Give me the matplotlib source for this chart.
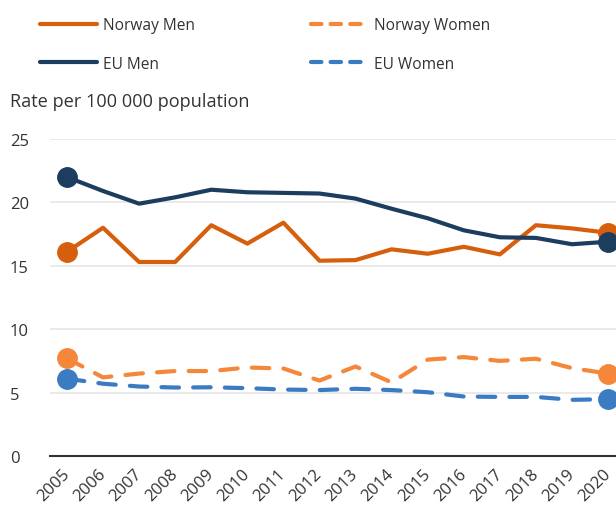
import matplotlib.pyplot as plt
from matplotlib.lines import Line2D

plt.rcParams["font.family"] = ["Open Sans", "DejaVu Sans"]

# ── DATA ──────────────────────────────────────────────────────────────────────
years = [str(y) for y in range(2005, 2021)]
norway_men = [16.1, 18.0, 15.3, 15.3, 18.2, 16.75, 18.4, 15.4, 15.45, 16.3,
              15.95, 16.5, 15.9, 18.2, 17.95, 17.6]
eu_men = [22.0, 20.9, 19.9, 20.4, 21.0, 20.8, 20.75, 20.7, 20.3, 19.5,
          18.75, 17.8, 17.25, 17.2, 16.7, 16.9]
norway_women = [7.7, 6.2, 6.5, 6.7, 6.7, 6.98, 6.9, 5.95, 7.06, 5.8,
                7.6, 7.8, 7.5, 7.67, 6.93, 6.5]
eu_women = [6.1, 5.7, 5.48, 5.4, 5.42, 5.35, 5.24, 5.2, 5.3, 5.2,
            5.03, 4.69, 4.66, 4.66, 4.43, 4.48]

C_NO_MEN = "#d65f0e"
C_NO_WOMEN = "#f5873a"
C_EU_MEN = "#1d3d5f"
C_EU_WOMEN = "#3a7bc2"
C_TEXT = "#333333"

series = [
    ("Norway Men", norway_men, C_NO_MEN, "-"),
    ("EU Men", eu_men, C_EU_MEN, "-"),
    ("Norway Women", norway_women, C_NO_WOMEN, "--"),
    ("EU Women", eu_women, C_EU_WOMEN, "--"),
]

# ── FIGURE ────────────────────────────────────────────────────────────────────
fig = plt.figure(figsize=(6.16, 5.10), dpi=100)
ax = fig.add_axes([50 / 616, 1 - 457 / 510, 566 / 616, 317 / 510])

x = list(range(len(years)))
for label, vals, col, ls in series:
    line, = ax.plot(x, vals, color=col, lw=3, ls=ls, solid_capstyle="round",
                    dash_capstyle="round", zorder=3)
    if ls == "--":
        line.set_dashes((4.2, 3.4))
    # endpoint markers
    ax.plot([x[0], x[-1]], [vals[0], vals[-1]], "o", color=col, ms=14,
            zorder=4, clip_on=False)

ax.set_xlim(-0.47, 15.22)
ax.set_ylim(0, 25)
ax.set_yticks([0, 5, 10, 15, 20, 25])
ax.set_xticks(x)
ax.set_xticklabels(years, rotation=45, ha="right", va="center",
                   rotation_mode="anchor")
ax.tick_params(axis="both", length=0, labelsize=12, colors=C_TEXT)
ax.tick_params(axis="y", pad=29)
ax.tick_params(axis="x", pad=11)
for lbl in ax.get_yticklabels():
    lbl.set_horizontalalignment("left")

ax.grid(axis="y", color="#e6e6e6", lw=1.2)
ax.set_axisbelow(True)
for side in ["top", "right", "left"]:
    ax.spines[side].set_visible(False)
ax.spines["bottom"].set_color("#333333")
ax.spines["bottom"].set_linewidth(1.5)

fig.text(10 / 616, 1 - 102 / 510, "Rate per 100 000 population",
         fontsize=13.1, color=C_TEXT, va="center", ha="left")

# ── LEGEND ────────────────────────────────────────────────────────────────────
def handle(col, ls):
    h = Line2D([], [], color=col, lw=3, ls=ls, solid_capstyle="round",
               dash_capstyle="round")
    if ls == "--":
        h.set_dashes((2.5, 2.2))
    return h

handles = [handle(c, ls) for _, _, c, ls in series]
labels = [s[0] for s in series]
fig.legend(handles, labels, ncol=2, loc="upper left",
           bbox_to_anchor=(40 / 616, 1 - 18 / 510), frameon=False,
           borderpad=0, borderaxespad=0,
           fontsize=11.2, handlelength=3.65, handletextpad=0.38,
           columnspacing=7.5, labelspacing=1.45, labelcolor=C_TEXT)

fig.savefig("out.png", dpi=100)
